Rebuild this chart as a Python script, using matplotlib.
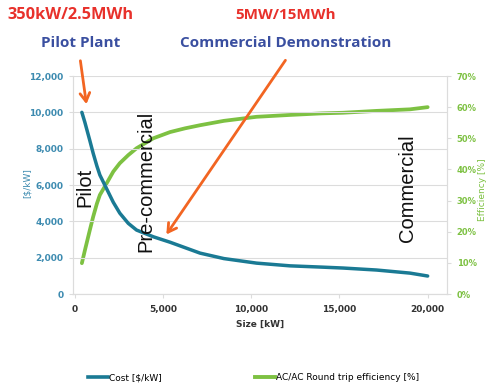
import matplotlib.pyplot as plt
from matplotlib.lines import Line2D

# values
size_kw = [400, 570, 850, 1040, 1250, 1420, 1800, 2180, 2550, 3030, 3500, 4450,
           5400, 6250, 7100, 8450, 10300, 12200, 14000, 15200, 17100, 19000, 20000]
cost = [10000, 9450, 8450, 7750, 7050, 6550, 5800, 5050, 4450, 3890, 3520, 3150,
        2850, 2550, 2250, 1950, 1700, 1550, 1480, 1430, 1320, 1150, 990]
efficiency = [9.9, 14.0, 20.5, 24.8, 29.0, 31.8, 35.5, 39.3, 42.0, 44.6, 46.8, 50.0,
              52.0, 53.2, 54.2, 55.6, 56.9, 57.5, 58.0, 58.2, 58.8, 59.3, 60.0]

cost_ticks = [0, 2000, 4000, 6000, 8000, 10000, 12000]
eff_ticks = [0, 10, 20, 30, 40, 50, 60, 70]
size_ticks = [0, 5000, 10000, 15000, 20000]

teal = '#1a7a94'
green = '#7dc142'
orange = '#f26522'
red = '#e8312b'
blue = '#3a4fa0'
grid_c = '#dcdcdc'

fig = plt.figure(figsize=(4.87, 3.87), dpi=100)
ax = fig.add_axes([0.150, 0.2403, 0.768, 0.5633])
ax2 = ax.twinx()

ax.plot(size_kw, cost, color=teal, lw=2.5, solid_capstyle='round', solid_joinstyle='round')
ax2.plot(size_kw, efficiency, color=green, lw=2.7, solid_capstyle='round', solid_joinstyle='round')
ax.set_zorder(ax2.get_zorder() + 1)
ax.patch.set_visible(False)

ax.set_xlim(-100, 21100)
ax.set_ylim(0, 12000)
ax2.set_ylim(0, 70)

ax.set_xticks(size_ticks)
ax.set_xticklabels(['{:,}'.format(v) for v in size_ticks])
ax.set_yticks(cost_ticks)
ax.set_yticklabels(['{:,}'.format(v) for v in cost_ticks])
ax2.set_yticks(eff_ticks)
ax2.set_yticklabels(['{}%'.format(v) for v in eff_ticks])

ax.grid(axis='y', color=grid_c, lw=0.8)
ax.set_axisbelow(True)

for a in (ax, ax2):
    for s in a.spines.values():
        s.set_color(grid_c)
    a.spines['top'].set_visible(False)

ax.tick_params(axis='x', length=3, color=grid_c, labelsize=6.5, labelcolor='#333333', pad=5)
ax.tick_params(axis='y', length=3, color=grid_c, labelsize=6.5, labelcolor='#3d8bb0', pad=4)
ax2.tick_params(axis='y', length=3, color=grid_c, labelsize=6, labelcolor=green, pad=4)
for lab in ax.get_xticklabels() + ax.get_yticklabels() + ax2.get_yticklabels():
    lab.set_fontweight('bold')

ax.set_xlabel('Size [kW]', fontsize=6.5, color='#333333', fontweight='bold', labelpad=4)
ax.set_ylabel('[$/kW]', fontsize=6.5, color='#3d8bb0')
ax.yaxis.set_label_coords(-0.11, 0.51)
ax2.set_ylabel('Efficiency [%]', fontsize=6.5, color=green)
ax2.yaxis.set_label_coords(1.082, 0.48)

# stage labels
stage_font = dict(family='Liberation Sans', fontsize=14.5, rotation=90,
                  ha='center', va='center', color='#111111')
fig.text(85 / 487, 1 - 187 / 387, 'Pilot', **stage_font)
fig.text(146 / 487, 1 - 181 / 387, 'Pre-commercial', **stage_font)
fig.text(408 / 487, 1 - 188 / 387, 'Commercial', **stage_font)

# headings
head_font = dict(family='Open Sans', fontweight='bold', ha='center', va='center')
fig.text(70 / 487, 1 - 15 / 387, '350kW/2.5MWh', color=red, fontsize=11.8, **head_font)
fig.text(81 / 487, 1 - 43 / 387, 'Pilot Plant', color=blue, fontsize=11, **head_font)
fig.text(286 / 487, 1 - 15 / 387, '5MW/15MWh', color=red, fontsize=11, **head_font)
fig.text(286 / 487, 1 - 43 / 387, 'Commercial Demonstration', color=blue, fontsize=11, **head_font)

arrow = dict(arrowstyle='->,head_length=0.6,head_width=0.35', color=orange, lw=2)
ax.annotate('', xy=(680, 10300), xycoords='data',
            xytext=(80, 387 - 58), textcoords='figure pixels', arrowprops=arrow)
ax.annotate('', xy=(5100, 3150), xycoords='data',
            xytext=(287, 387 - 58), textcoords='figure pixels', arrowprops=arrow)

# legend, two entries placed like the reference
leg_kw = dict(loc='center left', frameon=False, handlelength=2.2, handletextpad=0.1,
              borderpad=0, borderaxespad=0, prop=dict(size=6.5))
fig.legend([Line2D([], [], color=teal, lw=2.6)], ['Cost [$/kW]'],
           bbox_to_anchor=(88 / 487, 1 - 378 / 387), **leg_kw)
fig.legend([Line2D([], [], color=green, lw=2.8)], ['AC/AC Round trip efficiency [%]'],
           bbox_to_anchor=(255 / 487, 1 - 378 / 387), **leg_kw)

fig.savefig('out.png', dpi=100)
